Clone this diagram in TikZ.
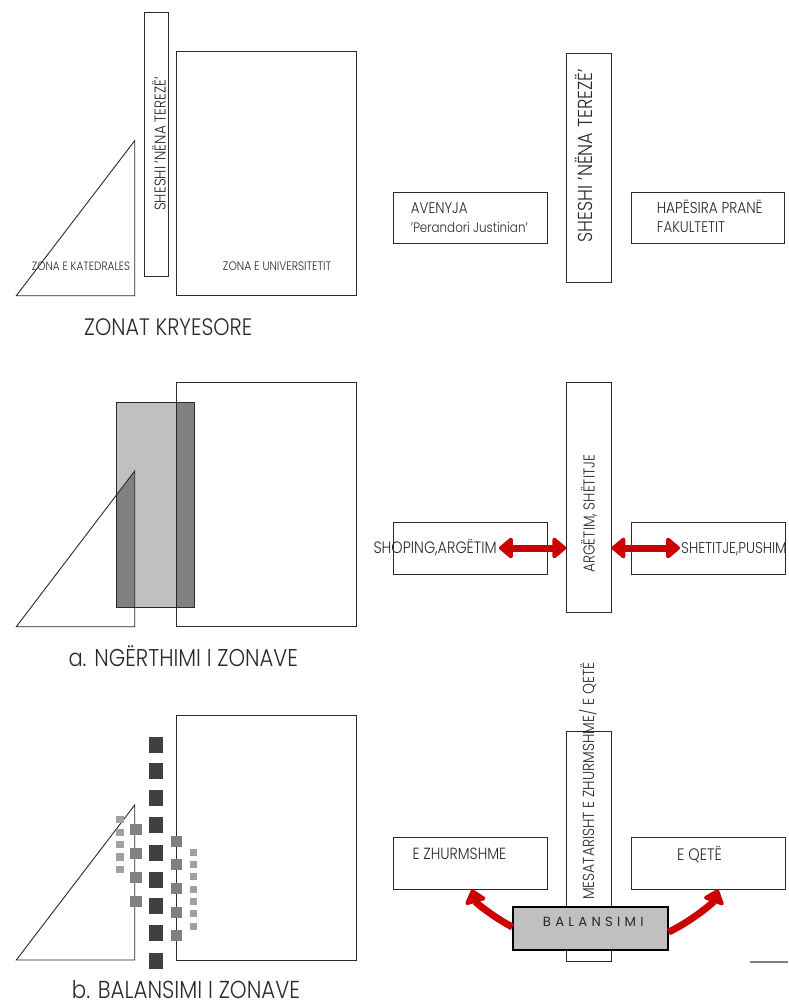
\documentclass[tikz,border=0pt]{standalone}
\usepackage{fontspec}
\IfFontExistsTF{Poppins Light}{\setmainfont{Poppins Light}}{\setmainfont{Poppins}}
\usetikzlibrary{arrows.meta,calc}
\definecolor{redA}{HTML}{CC0000}
\definecolor{lgray}{HTML}{C0C0C0}
\definecolor{mgray}{HTML}{808080}
\definecolor{dgray}{HTML}{404040}
\definecolor{pgray}{HTML}{A0A0A0}
\definecolor{ink}{HTML}{2A2A2A}
\newcommand{\fw}[2]{\resizebox{#1pt}{!}{\scalebox{1}[1.15]{#2}}}
\tikzset{
  outl/.style={draw=ink, line width=0.9pt},
  box/.style={draw=ink, line width=0.9pt, inner sep=0pt, fill=white},
  lbl/.style={text=ink, inner sep=0pt, anchor=base west},
  vlbl/.style={text=ink, inner sep=0pt, anchor=base west, rotate=90},
  redarrow/.style={draw=redA, line width=7pt},
  rtip/.tip={Triangle[width=24pt,length=15pt,round]},
  sqD/.style={fill=dgray},
  sqM/.style={fill=mgray},
  sqL/.style={fill=pgray}
}
\begin{document}
\begin{tikzpicture}[x=1pt,y=-1pt]
\useasboundingbox (0,0) rectangle (788,1008);
\clip (0,0) rectangle (788,1008);
\fill[white] (0,0) rectangle (788,1008);

% ===== Section 1 left =====
\draw[outl] (144,12) rectangle (168.5,276);
\draw[outl] (176.7,51) rectangle (356.7,295.7);
\draw[outl] (16.3,295.7) -- (134.7,140.7) -- (134.7,295.7) -- cycle;
\node[vlbl] (t1s) at (165.5,211) {\fw{134}{SHESHI 'NËNA TEREZË'}};
\node[lbl] (t1k) at (31.7,270.7) {\fw{98.3}{ZONA E KATEDRALES}};
\node[lbl] (t1u) at (222.7,270.7) {\fw{108.3}{ZONA E UNIVERSITETIT}};
\node[lbl] (cap1) at (84,335) {\fw{168}{ZONAT KRYESORE}};

% ===== Section 1 right =====
\node[box, minimum width=44.5pt, minimum height=229pt] (v1) at (588.75,167.5) {};
\node[box, minimum width=154.7pt, minimum height=51pt] (av) at (470.4,217.5) {};
\node[box, minimum width=153.8pt, minimum height=51pt] (hf) at (707.9,217.5) {};
\node[vlbl] (t1v) at (592,242.3) {\fw{173}{SHESHI 'NËNA TEREZË'}};
\node[lbl] (ta1) at (410.7,213.3) {\fw{56.7}{AVENYJA}};
\node[lbl] (ta2) at (410.7,232.5) {\fw{117}{'Perandori Justinian'}};
\node[lbl] (th1) at (656.7,213.3) {\fw{105.7}{HAPËSIRA PRANË}};
\node[lbl] (th2) at (656.7,232.7) {\fw{68.3}{FAKULTETIT}};

% ===== Section 2 left =====
\fill[lgray] (116,402.7) rectangle (194.3,607.3);
\begin{scope}
  \clip (116,402.7) rectangle (194.3,607.3);
  \fill[mgray] (16.3,626.7) -- (134.7,471) -- (134.7,626.7) -- cycle;
  \fill[mgray] (176.7,382) rectangle (356.7,626.7);
\end{scope}
\draw[outl] (116,402.7) rectangle (194.3,607.3);
\draw[outl] (176.7,382) rectangle (356.7,626.7);
\draw[outl] (16.3,626.7) -- (134.7,471) -- (134.7,626.7) -- cycle;
\node[lbl] (cap2) at (68.3,666.7) {\fw{229.4}{a. NGËRTHIMI I ZONAVE}};

% ===== Section 2 right =====
\node[box, minimum width=44.3pt, minimum height=229.6pt] (v2) at (588.85,497.5) {};
\node[box, minimum width=154.4pt, minimum height=51.7pt] (sh) at (470.5,548.15) {};
\node[box, minimum width=153.6pt, minimum height=51.7pt] (sp) at (708.5,548.15) {};
\node[vlbl] (t2v) at (594.5,573) {\fw{118}{ARGËTIM, SHËTITJE}};
\node[lbl] (t2l) at (373.3,553.3) {\fw{123.3}{SHOPING,ARGËTIM}};
\node[lbl] (t2r) at (681,553.3) {\fw{105.5}{SHETITJE,PUSHIM}};
\coordinate (al) at (499,548);
\coordinate (ar) at (680,548);
\draw[redarrow, {rtip}-{rtip}] (al) -- (v2.west |- al);
\draw[redarrow, {rtip}-{rtip}] (v2.east |- ar) -- (ar);

% ===== Section 3 left =====
\draw[outl] (176.7,715) rectangle (356.7,960);
\draw[outl] (16.3,960) -- (134.7,805) -- (134.7,960) -- cycle;
\foreach \y in {744.7,771,798,825,853,880,906,933,961}
  \fill[sqD] (148.7,\y-8) rectangle (162.7,\y+8);
\foreach \y in {829.3,853.8,877.7,901.5}
  \fill[sqM] (130,\y-5.5) rectangle (141.7,\y+5.5);
\foreach \y in {841.3,864.5,888,912,935.5}
  \fill[sqM] (171,\y-5.5) rectangle (182.3,\y+5.5);
\foreach \y in {819.7,832.5,844.7,857,869.5}
  \fill[sqL] (116,\y-3.7) rectangle (124.3,\y+3.7);
\foreach \y in {852,864.8,876.8,889,901.5,913.8,926.5}
  \fill[sqL] (190,\y-3.5) rectangle (196.7,\y+3.5);
\node[lbl] (cap3) at (71.7,998.3) {\fw{228.3}{b. BALANSIMI I ZONAVE}};

% ===== Section 3 right =====
\node[box, minimum width=44.3pt, minimum height=230pt] (v3) at (588.85,846) {};
\node[box, minimum width=154.7pt, minimum height=51.6pt] (ez) at (470.4,863.5) {};
\node[box, minimum width=154pt, minimum height=51.6pt] (eq) at (708.3,863.5) {};
\node[vlbl] (t3v) at (594,900) {\fw{237}{MESATARISHT E ZHURMSHME/ E QETË}};
\node[lbl] (t3l) at (412.3,859.3) {\fw{93.7}{E ZHURMSHME}};
\node[lbl] (t3r) at (677,860) {\fw{44.7}{E QETË}};
\node[draw=black, line width=1.8pt, fill=lgray, inner sep=0pt, minimum width=154.4pt, minimum height=43.3pt] (bal) at (590.5,928.35) {};
\node[lbl] (t3b) at (542.7,926.7) {\resizebox{100.6pt}{!}{\fontspec{Poppins}B\hspace{0.32em}A\hspace{0.32em}L\hspace{0.32em}A\hspace{0.32em}N\hspace{0.32em}S\hspace{0.32em}I\hspace{0.32em}M\hspace{0.32em}I}};
\coordinate (ezt) at (472,889.3);
\coordinate (eqt) at (718,889.3);
\draw[redarrow, -{rtip}] (bal.west |- 0,927) .. controls (495,918) and (476,903) .. (ezt);
\draw[redarrow, -{rtip}] (bal.east |- 0,932) .. controls (690,922) and (713,903) .. (eqt);
\coordinate (g1) at (750,962);
\coordinate (g2) at (788,962);
\draw[draw=mgray, line width=1.2pt] (g1) -- (g2);
\end{tikzpicture}
\end{document}
